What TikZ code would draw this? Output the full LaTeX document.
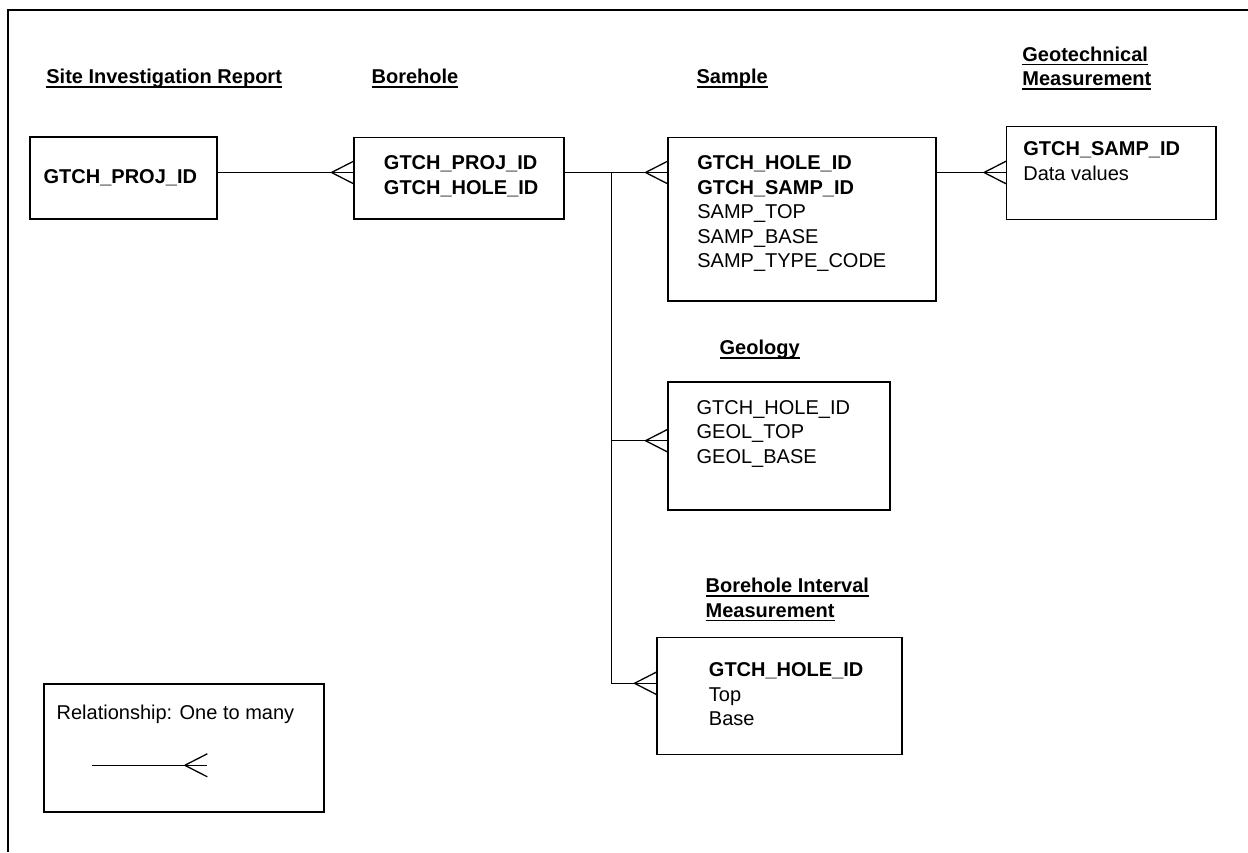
\documentclass[tikz,border=0pt]{standalone}
\usepackage{fontspec}
\setmainfont{Liberation Sans}
\usetikzlibrary{decorations.markings}

\newsavebox{\ttlbox}
\newcommand{\entitle}[1]{\sbox{\ttlbox}{#1}\rlap{\rule[-4pt]{\wd\ttlbox}{1.6pt}}\usebox{\ttlbox}}

\tikzset{
  entbox/.style={draw, inner sep=0pt, outer sep=0pt},
  fields/.style={anchor=north west, inner sep=0pt, align=left, font=\fontsize{20}{24.5}\selectfont},
  heading/.style={fields, font=\fontsize{20}{24.5}\selectfont\bfseries},
  crowfoot/.style={postaction={decorate, decoration={markings,
    mark=at position 1 with {\draw (-22.5pt,0pt) -- (0pt,11.5pt) (-22.5pt,0pt) -- (0pt,-11.5pt);}}}},
}

\begin{document}
\begin{tikzpicture}[x=1pt, y=1pt, line width=1.3pt]
    \useasboundingbox (0,0) rectangle (1248,852);

    % frame
    \draw (8,0) -- (8,842) -- (1248,842);

    % entity headings
    \node[heading] (proj-t) at (45.7,783.3) {\entitle{Site Investigation Report}};
    \node[heading] (hole-t) at (371,783.3) {\entitle{Borehole}};
    \node[heading] (samp-t) at (696,783.3) {\entitle{Sample}};
    \node[heading] (geot-t) at (1021.7,806) {\entitle{Geotechnical}\\\entitle{Measurement}};
    \node[heading] (geol-t) at (719,512.3) {\entitle{Geology}};
    \node[heading] (intv-t) at (705,274.3) {\entitle{Borehole Interval}\\\entitle{Measurement}};

    % entity boxes
    \node[entbox, minimum width=187pt, minimum height=82pt] (proj) at (123.5,674) {};
    \node[entbox, minimum width=210pt, minimum height=81.5pt] (hole) at (459,673.75) {};
    \node[entbox, minimum width=268pt, minimum height=163.5pt] (samp) at (802,632.75) {};
    \node[entbox, minimum width=209.5pt, minimum height=92.6pt] (geot) at (1111.25,679) {};
    \node[entbox, minimum width=222pt, minimum height=128pt] (geol) at (779,406) {};
    \node[entbox, minimum width=245pt, minimum height=116.8pt] (intv) at (779.5,155.9) {};
    \node[entbox, minimum width=280pt, minimum height=128pt] (legend) at (184,104) {};

    % fields
    \node[fields] (proj-f) at (43,683.3) {\textbf{GTCH\_PROJ\_ID}};
    \node[fields] (hole-f) at (383.3,697) {\textbf{GTCH\_PROJ\_ID}\\\textbf{GTCH\_HOLE\_ID}};
    \node[fields] (samp-f) at (696.7,696.8) {\textbf{GTCH\_HOLE\_ID}\\\textbf{GTCH\_SAMP\_ID}\\SAMP\_TOP\\SAMP\_BASE\\SAMP\_TYPE\_CODE};
    \node[fields] (geot-f) at (1022.7,711) {\textbf{GTCH\_SAMP\_ID}\\Data values};
    \node[fields] (geol-f) at (696,452.6) {GTCH\_HOLE\_ID\\GEOL\_TOP\\GEOL\_BASE};
    \node[fields] (intv-f) at (708.3,190) {\textbf{GTCH\_HOLE\_ID}\\Top\\Base};
    \node[fields] (legend-f) at (56,147.6) {Relationship: One to many};

    % relationships
    \coordinate (row) at (0,679.5);
    \coordinate (trunk) at (611.7,679.5);
    \coordinate (geol-in) at ([yshift=5.3pt]geol.west);
    \coordinate (intv-in) at ([yshift=12.8pt]intv.west);

    \draw[crowfoot] (proj.east |- row) -- (hole.west |- row);
    \draw[crowfoot] (hole.east |- row) -- (samp.west |- row);
    \draw[crowfoot] (samp.east |- row) -- (geot.west |- row);
    \draw[crowfoot] (trunk |- geol-in) -- (geol-in);
    \draw[crowfoot] (trunk) |- (intv-in);

    % legend key
    \coordinate (key-a) at (91.7,86.7);
    \coordinate (key-b) at (207.3,86.7);
    \draw[crowfoot] (key-a) -- (key-b);

\end{tikzpicture}
\end{document}
